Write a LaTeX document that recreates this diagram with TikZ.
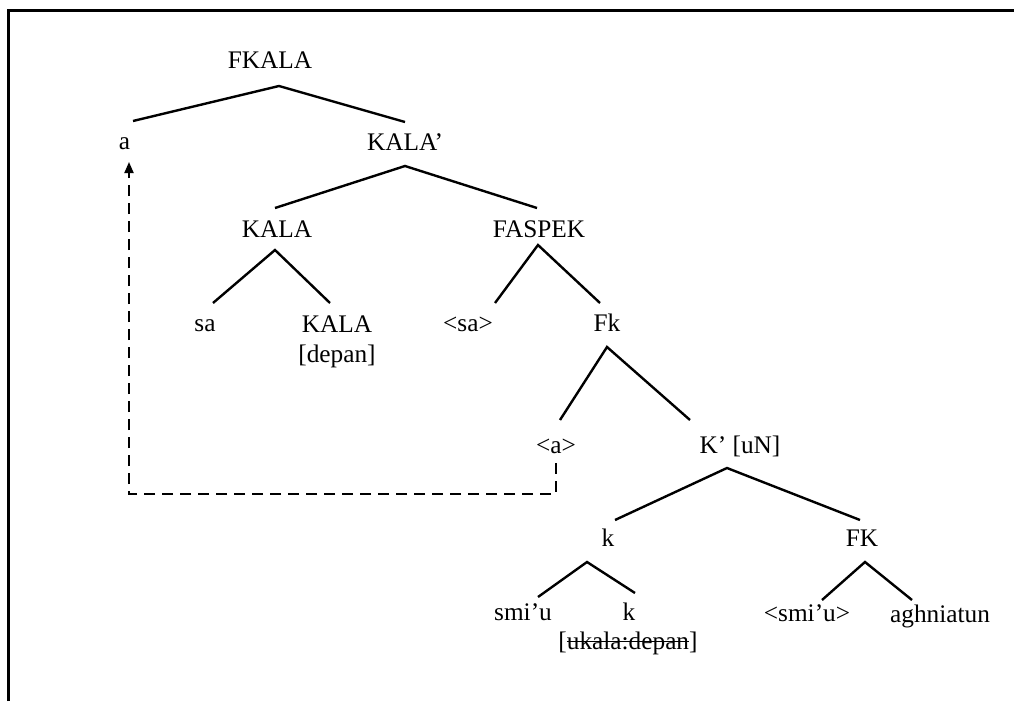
\documentclass[tikz,border=0pt]{standalone}
\usepackage{fontspec}
\setmainfont{Liberation Serif}
\usetikzlibrary{arrows.meta}
\newcommand\mystrike[1]{\leavevmode\setbox0\hbox{#1}\rlap{\rule[0.27em]{\wd0}{1.3pt}}\box0}
\begin{document}
\begin{tikzpicture}[x=1pt,y=-1pt,
  lbl/.style={anchor=base,inner sep=0pt,font=\fontsize{25.3}{30}\selectfont},
  edge/.style={line width=2.4pt},
  frame/.style={line width=3pt},
  mv/.style={line width=2pt,dash pattern=on 11pt off 7pt,-{Triangle[length=11pt,width=9pt]}}]
\useasboundingbox (0,0) rectangle (1014,701);
% frame
\coordinate (fr1) at (8,701);
\coordinate (fr2) at (8,10.5);
\coordinate (fr3) at (1014,10.5);
\draw[frame] (fr1) -- (fr2) -- (fr3);
% labels
\node[lbl] (fkala) at (270,69) {FKALA};
\node[lbl] (a) at (124.5,149) {a};
\node[lbl] (kalap) at (405,150) {KALA’};
\node[lbl] (kala1) at (277,237) {KALA};
\node[lbl] (faspek) at (539,237) {FASPEK};
\node[lbl] (sa) at (205,331) {sa};
\node[lbl] (kala2) at (337,332) {KALA};
\node[lbl] (depan) at (337,362) {[depan]};
\node[lbl] (sat) at (468,331) {<sa>};
\node[lbl] (fk) at (607,331) {Fk};
\node[lbl] (at) at (556,453) {<a>};
\node[lbl] (kun) at (740,453) {K’ [uN]};
\node[lbl] (k1) at (608,546) {k};
\node[lbl] (FK) at (862,546) {FK};
\node[lbl] (smiu) at (523,620) {smi’u};
\node[lbl] (k2) at (629,620) {k};
\node[lbl] (uk) at (628,649) {[\mystrike{ukala:depan}]};
\node[lbl] (smiut) at (807,621) {<smi’u>};
\node[lbl] (agh) at (940,622) {aghniatun};
% edge points
\coordinate (p1) at (279,86); \coordinate (p1l) at (133,121); \coordinate (p1r) at (405,122);
\coordinate (p2) at (405,166); \coordinate (p2l) at (275,208); \coordinate (p2r) at (537,208);
\coordinate (p3) at (275,250); \coordinate (p3l) at (213,303); \coordinate (p3r) at (330,303);
\coordinate (p4) at (538,245); \coordinate (p4l) at (495,303); \coordinate (p4r) at (600,303);
\coordinate (p5) at (607,347); \coordinate (p5l) at (560,420); \coordinate (p5r) at (690,420);
\coordinate (p6) at (727,468); \coordinate (p6l) at (615,520); \coordinate (p6r) at (860,520);
\coordinate (p7) at (587,562); \coordinate (p7l) at (538,597); \coordinate (p7r) at (635,593);
\coordinate (p8) at (865,562); \coordinate (p8l) at (822,600); \coordinate (p8r) at (912,600);
\foreach \i in {1,...,8}{\draw[edge] (p\i l) -- (p\i) -- (p\i r);}
% movement arrow
\coordinate (m1) at (556,463);
\coordinate (m2) at (556,494);
\coordinate (m3) at (129,494);
\coordinate (m4) at (129,162);
\draw[mv] (m1) -- (m2) -- (m3) -- (m4);
\end{tikzpicture}
\end{document}
